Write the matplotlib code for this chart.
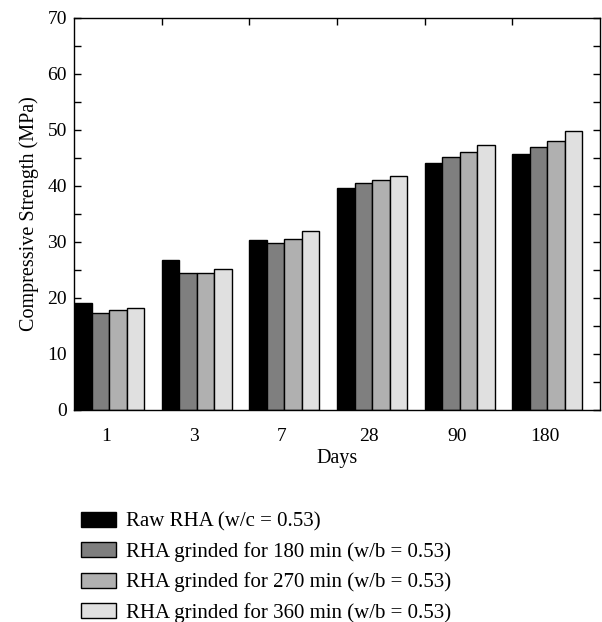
import matplotlib
matplotlib.use("Agg")
import matplotlib.pyplot as plt
import numpy as np
from matplotlib.ticker import MultipleLocator, FixedLocator

plt.rcParams['font.family'] = ['Liberation Serif', 'DejaVu Serif']

days = ["1", "3", "7", "28", "90", "180"]
series_labels = [
    "Raw RHA (w/c = 0.53)",
    "RHA grinded for 180 min (w/b = 0.53)",
    "RHA grinded for 270 min (w/b = 0.53)",
    "RHA grinded for 360 min (w/b = 0.53)",
]
raw = [19.1, 26.7, 30.3, 39.6, 44.1, 45.8]
g180 = [17.3, 24.5, 29.8, 40.6, 45.2, 46.9]
g270 = [17.9, 24.5, 30.5, 41.0, 46.1, 48.1]
g360 = [18.2, 25.2, 32.0, 41.7, 47.3, 49.8]
colors = ["#000000", "#7f7f7f", "#b0b0b0", "#e0e0e0"]

fig = plt.figure(figsize=(6.02, 6.22), dpi=100)
ax = fig.add_axes([74/602, 1-410/622, 526/602, 392/622])

x = np.arange(len(days))
w = 0.2
for k, (vals, c, lab) in enumerate(zip([raw, g180, g270, g360], colors, series_labels)):
    ax.bar(x - 0.5 + w*k, vals, width=w, align='edge', color=c,
           edgecolor='black', linewidth=1.0, label=lab)

ax.set_xlim(-0.5, len(days) - 0.5)
ax.set_ylim(0, 70)
ax.set_xticks(x - 0.13)
ax.set_xticklabels(days)
ax.xaxis.set_minor_locator(FixedLocator(x[:-1] + 0.5))
ax.tick_params(axis='x', which='major', length=0, labelsize=14, pad=13)
ax.tick_params(axis='x', which='minor', top=True, bottom=False, direction='in', length=5, width=1)
ax.yaxis.set_major_locator(MultipleLocator(10))
ax.yaxis.set_minor_locator(MultipleLocator(5))
ax.tick_params(axis='y', which='both', direction='in', left=True, right=True, length=5, width=1, labelsize=14, pad=5)
for s in ax.spines.values():
    s.set_linewidth(1.0)

ax.set_xlabel("Days", fontsize=14.5, labelpad=3)
ax.set_ylabel("Compressive Strength (MPa)", fontsize=14.5, labelpad=6)

fig.legend(loc='upper left', bbox_to_anchor=(81/602, 1-512/622), frameon=False,
           fontsize=15, handlelength=1.68, handleheight=0.72, handletextpad=0.48,
           labelspacing=0.5, borderaxespad=0, borderpad=0)

fig.savefig("out.png", dpi=100)
